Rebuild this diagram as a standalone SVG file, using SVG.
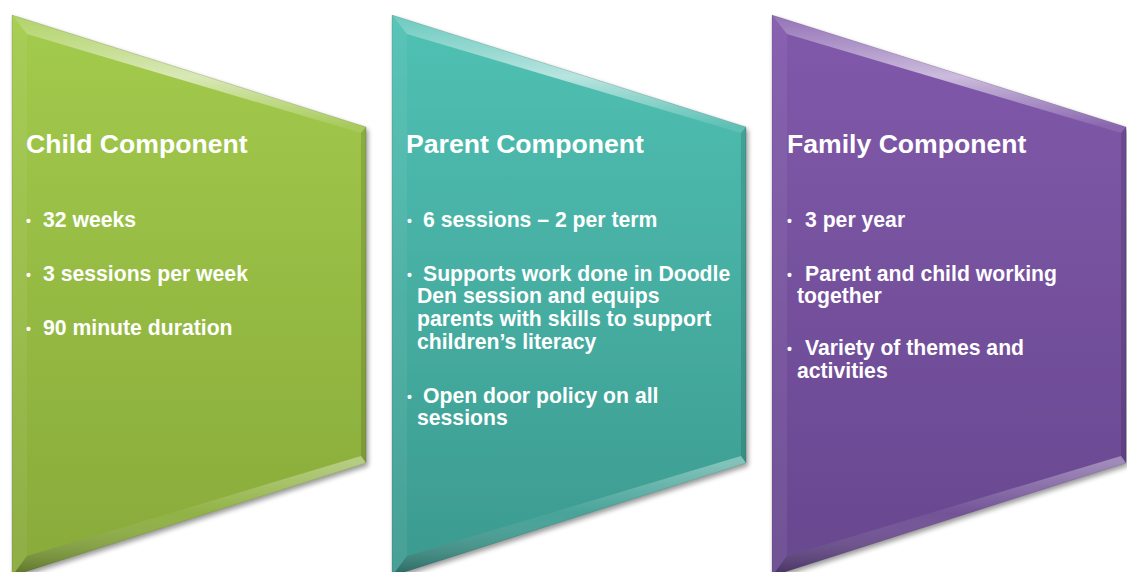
<svg xmlns="http://www.w3.org/2000/svg" xmlns:xlink="http://www.w3.org/1999/xlink" width="1127" height="572" viewBox="0 0 1127 572">
<style>
.title{font-family:"Liberation Sans",Arial,sans-serif;font-weight:bold;font-size:26.6px;fill:#ffffff}
.item{font-family:"Liberation Sans",Arial,sans-serif;font-weight:bold;font-size:21.2px;fill:#ffffff}
.bul{font-size:14px}
</style>
<defs>
<linearGradient id="gGreen" x1="0" y1="0" x2="0" y2="1"><stop offset="0" stop-color="#a3cb4c"/><stop offset="1" stop-color="#88aa3a"/></linearGradient>
<linearGradient id="gTeal" x1="0" y1="0" x2="0" y2="1"><stop offset="0" stop-color="#50c1b4"/><stop offset="1" stop-color="#3c9a8f"/></linearGradient>
<linearGradient id="gPurple" x1="0" y1="0" x2="0" y2="1"><stop offset="0" stop-color="#8159ab"/><stop offset="1" stop-color="#68488f"/></linearGradient>
<linearGradient id="topHl" x1="0" y1="0" x2="0.06" y2="1"><stop offset="0" stop-color="#ffffff" stop-opacity="0.15"/><stop offset="0.55" stop-color="#ffffff" stop-opacity="0.6"/><stop offset="1" stop-color="#ffffff" stop-opacity="0.1"/></linearGradient>
<linearGradient id="botSh" x1="0" y1="0" x2="-0.06" y2="1"><stop offset="0" stop-color="#ffffff" stop-opacity="0.35"/><stop offset="0.45" stop-color="#ffffff" stop-opacity="0.05"/><stop offset="1" stop-color="#000000" stop-opacity="0.35"/></linearGradient>
<filter id="shadow" x="-5%" y="-5%" width="115%" height="115%"><feGaussianBlur in="SourceAlpha" stdDeviation="2.5"/><feOffset dx="2" dy="3" result="b"/><feComponentTransfer><feFuncA type="linear" slope="0.4"/></feComponentTransfer><feMerge><feMergeNode/><feMergeNode in="SourceGraphic"/></feMerge></filter>
<g id="shape">
<polygon points="12,15 366,127 366,463 12,576"/>
<polygon points="12,15 366,127 361,133 27,34" fill="url(#topHl)"/>
<polygon points="12,15 27,34 27,556 12,576" fill="#ffffff" fill-opacity="0.06"/>
<polygon points="366,127 366,463 361,456 361,133" fill="#000000" fill-opacity="0.12"/>
<polygon points="27,556 361,456 366,463 12,576" fill="url(#botSh)"/>
<polyline points="12,576 12,15 366,127 366,463 12,576" fill="none" stroke="#000000" stroke-opacity="0.12" stroke-width="1"/>
</g>
</defs>
<rect width="1127" height="572" fill="#ffffff"/>
<g id="child-component">
<use xlink:href="#shape" fill="url(#gGreen)" filter="url(#shadow)"/>
<text class="title" x="26" y="153">Child Component</text>
<text class="item" x="26" y="226"><tspan class="bul">•</tspan></text>
<text class="item" x="43" y="227">32 weeks</text>
<text class="item" x="26" y="280"><tspan class="bul">•</tspan></text>
<text class="item" x="43" y="281">3 sessions per week</text>
<text class="item" x="26" y="334"><tspan class="bul">•</tspan></text>
<text class="item" x="43" y="335">90 minute duration</text>
</g>
<g id="parent-component">
<use xlink:href="#shape" transform="translate(380,0)" fill="url(#gTeal)" filter="url(#shadow)"/>
<text class="title" x="406" y="153">Parent Component</text>
<text class="item" x="407" y="226"><tspan class="bul">•</tspan></text>
<text class="item" x="423" y="227">6 sessions – 2 per term</text>
<text class="item" x="407" y="280"><tspan class="bul">•</tspan></text>
<text class="item" x="423" y="281">Supports work done in Doodle</text>
<text class="item" x="417" y="303">Den session and equips</text>
<text class="item" x="417" y="326">parents with skills to support</text>
<text class="item" x="417" y="349">children’s literacy</text>
<text class="item" x="407" y="402"><tspan class="bul">•</tspan></text>
<text class="item" x="423" y="403">Open door policy on all</text>
<text class="item" x="417" y="425">sessions</text>
</g>
<g id="family-component">
<use xlink:href="#shape" transform="translate(760,0)" fill="url(#gPurple)" filter="url(#shadow)"/>
<text class="title" x="787" y="153">Family Component</text>
<text class="item" x="787" y="226"><tspan class="bul">•</tspan></text>
<text class="item" x="805" y="227">3 per year</text>
<text class="item" x="787" y="280"><tspan class="bul">•</tspan></text>
<text class="item" x="805" y="281">Parent and child working</text>
<text class="item" x="797" y="303">together</text>
<text class="item" x="787" y="354"><tspan class="bul">•</tspan></text>
<text class="item" x="805" y="355">Variety of themes and</text>
<text class="item" x="797" y="378">activities</text>
</g>
<g id="connectors"/>
</svg>
